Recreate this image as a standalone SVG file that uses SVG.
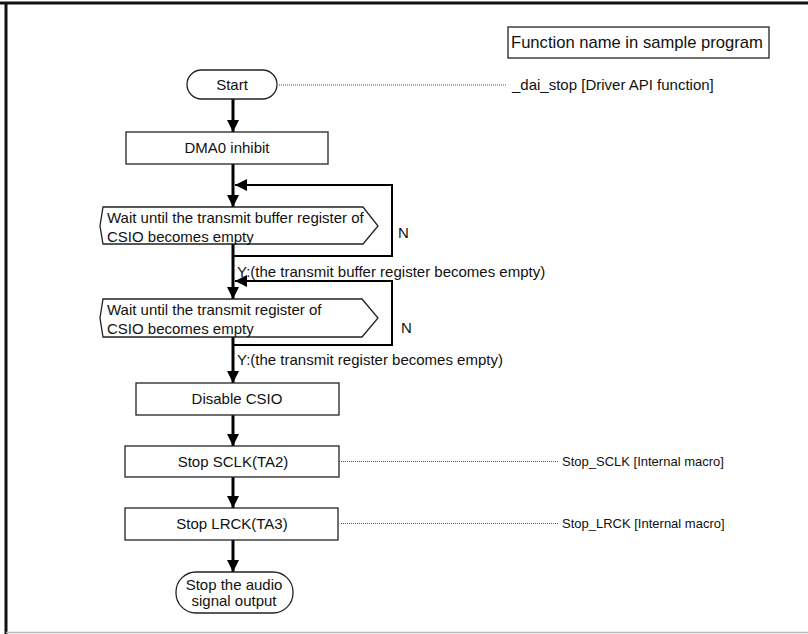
<svg xmlns="http://www.w3.org/2000/svg" width="808" height="634" viewBox="0 0 808 634">
  <style>
    text { font-family: "Liberation Sans", Arial, sans-serif; font-size: 15px; fill: #111; }
    .c { text-anchor: middle; }
    .note { font-size: 13px; }
    .box { fill: #fff; stroke: #222; stroke-width: 1.3; }
    .flow { fill: none; stroke: #000; stroke-width: 3; }
    .loop { fill: none; stroke: #000; stroke-width: 2; }
    .dot { fill: none; stroke: #555; stroke-width: 1; stroke-dasharray: 1 1; }
  </style>
  <defs>
    <marker id="arr" viewBox="0 0 10 10" refX="10" refY="5" markerWidth="4" markerHeight="4" markerUnits="strokeWidth" orient="auto">
      <path d="M0,0 L10,5 L0,10 z" fill="#000"/>
    </marker>
    <marker id="arrL" viewBox="0 0 10 10" refX="10" refY="5" markerWidth="6" markerHeight="6" markerUnits="strokeWidth" orient="auto">
      <path d="M0,0 L10,5 L0,10 z" fill="#000"/>
    </marker>
  </defs>

  <!-- page frame -->
  <rect x="0" y="0" width="808" height="634" fill="#fff"/>
  <line x1="0" y1="3" x2="808" y2="3" stroke="#111" stroke-width="3"/>
  <line x1="6" y1="2" x2="6" y2="634" stroke="#111" stroke-width="3"/>
  <line x1="6" y1="632.5" x2="808" y2="632.5" stroke="#bbb" stroke-width="1.5"/>

  <!-- legend -->
  <g id="legend">
    <rect class="box" x="508" y="27" width="261" height="31"/>
    <text x="511" y="48" style="font-size:16.6px">Function name in sample program</text>
  </g>

  <!-- connectors -->
  <g id="connectors">
    <line class="flow" x1="233" y1="99" x2="233" y2="132" marker-end="url(#arr)"/>
    <line class="flow" x1="233" y1="164" x2="233" y2="207" marker-end="url(#arr)"/>
    <polyline class="loop" points="233,256 392,256 392,185 235,185" marker-end="url(#arrL)"/>
    <line class="flow" x1="233" y1="244" x2="233" y2="299" marker-end="url(#arr)"/>
    <polyline class="loop" points="233,345 392,345 392,281 235,281" marker-end="url(#arrL)"/>
    <line class="flow" x1="233" y1="337" x2="233" y2="383" marker-end="url(#arr)"/>
    <line class="flow" x1="233" y1="415" x2="233" y2="446" marker-end="url(#arr)"/>
    <line class="flow" x1="233" y1="477" x2="233" y2="508" marker-end="url(#arr)"/>
    <line class="flow" x1="233" y1="540" x2="233" y2="572" marker-end="url(#arr)"/>
    <line class="dot" x1="279" y1="85" x2="506" y2="85"/>
    <line class="dot" x1="341" y1="461.5" x2="558" y2="461.5"/>
    <line class="dot" x1="341" y1="523.5" x2="558" y2="523.5"/>
    <text x="398" y="238">N</text>
    <text x="401" y="333">N</text>
    <text x="237" y="277">Y:(the transmit buffer register becomes empty)</text>
    <text x="237" y="365">Y:(the transmit register becomes empty)</text>
  </g>

  <!-- nodes -->
  <g id="start">
    <rect class="box" x="187" y="70" width="90" height="29" rx="14.5"/>
    <text class="c" x="232" y="90">Start</text>
  </g>
  <text x="512" y="90">_dai_stop [Driver API function]</text>

  <g id="dma0">
    <rect class="box" x="126" y="132" width="202" height="32"/>
    <text class="c" x="227" y="153">DMA0 inhibit</text>
  </g>

  <g id="wait-buffer">
    <polygon class="box" points="103,207 363,207 378,226 363,244 103,244 100,226"/>
    <text x="107" y="223">Wait until the transmit buffer register of</text>
    <text x="107" y="242">CSIO becomes empty</text>
  </g>

  <g id="wait-shift">
    <polygon class="box" points="103,299 362,299 378,318 362,337 103,337 100,318"/>
    <text x="107" y="315">Wait until the transmit register of</text>
    <text x="107" y="334">CSIO becomes empty</text>
  </g>

  <g id="disable-csio">
    <rect class="box" x="136" y="383" width="203" height="32"/>
    <text class="c" x="237" y="404">Disable CSIO</text>
  </g>

  <g id="stop-sclk">
    <rect class="box" x="125" y="446" width="214" height="31"/>
    <text class="c" x="233" y="467">Stop SCLK(TA2)</text>
  </g>
  <text class="note" x="562" y="466">Stop_SCLK [Internal macro]</text>

  <g id="stop-lrck">
    <rect class="box" x="125" y="508" width="213" height="32"/>
    <text class="c" x="232" y="529">Stop LRCK(TA3)</text>
  </g>
  <text class="note" x="562" y="528">Stop_LRCK [Internal macro]</text>

  <g id="end">
    <rect class="box" x="176" y="572" width="117" height="41" rx="20"/>
    <text class="c" x="234" y="590">Stop the audio</text>
    <text class="c" x="234" y="606">signal output</text>
  </g>
</svg>
